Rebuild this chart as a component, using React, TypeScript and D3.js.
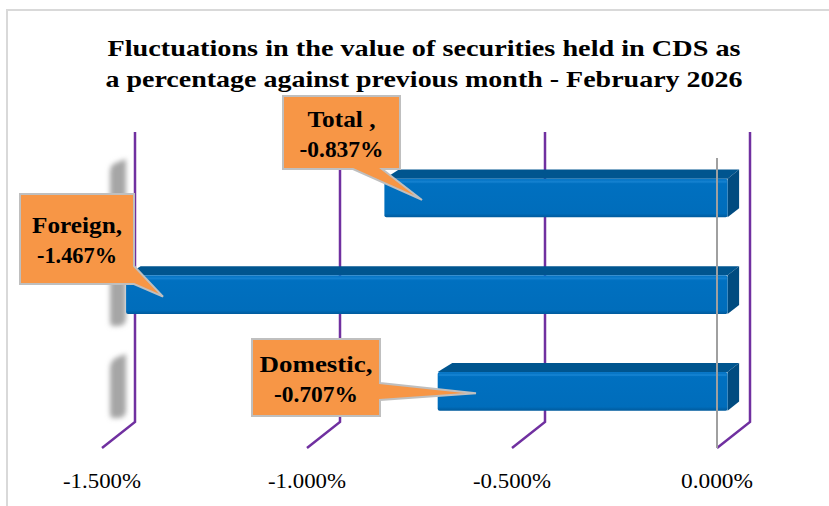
import React from "react";
import * as d3 from "d3";

const categories = ["Total", "Foreign", "Domestic"];
const values = [-0.837, -1.467, -0.707];
const labelNames = ["Total ,", "Foreign,", "Domestic,"];
const ticks = [-1.5, -1.0, -0.5, 0];
const titleLines = [
  "Fluctuations in the value of securities held in CDS as",
  "a percentage against previous month - February 2026",
];

const W = 829;
const H = 506;
const DX = -33; // depth offset (back -> front)
const DY = 26;
const FONT = "'Liberation Serif', 'Times New Roman', serif";

const pct = (v: number) => (v < 0 ? "-" : "") + d3.format(".3f")(Math.abs(v)) + "%";

export default function App() {
  const x = d3.scaleLinear().domain([-1.5, 0]).range([135, 750]);
  const y = d3.scaleBand<string>().domain(categories).range([132, 422]).paddingInner(0.6).paddingOuter(0.3);

  const tf = 0.68; // bar front depth
  const tb = 0.33; // bar back depth

  const boxes = [
    { x: 283, y: 96, w: 117, h: 73, p1: 353, p2: 382, tipX: 422, l1: 68, l2: 84 },
    { x: 20, y: 194, w: 114, h: 90, p1: 266, p2: 284, tipX: 163, l1: 90, l2: 80 },
    { x: 252, y: 339, w: 128, h: 77, p1: 383, p2: 400, tipX: 476, l1: 113, l2: 84 },
  ];
  const titleLens = [633, 637];

  return (
    <svg width={W} height={H} style={{ position: "fixed", left: 0, top: 0, background: "#fff" }}>
      <defs>
        <filter id="blur" x="-80%" y="-30%" width="260%" height="160%">
          <feGaussianBlur stdDeviation="2.8" />
        </filter>
        <linearGradient id="frontGrad" x1="0" y1="0" x2="0" y2="1">
          <stop offset="0" stopColor="#0a78c8" />
          <stop offset="0.15" stopColor="#0070c0" />
          <stop offset="0.9" stopColor="#006dbb" />
          <stop offset="1" stopColor="#005a9c" />
        </linearGradient>
      </defs>
      <rect x={7} y={10} width={W + 10} height={H + 10} fill="#fff" stroke="#d9d9d9" strokeWidth={2} />

      {titleLines.map((t, i) => (
        <text
          key={i}
          x={424}
          y={56 + i * 31}
          textAnchor="middle"
          fontFamily={FONT}
          fontWeight="bold"
          fontSize={24}
          fill="#000"
          textLength={titleLens[i]}
          lengthAdjust="spacingAndGlyphs"
        >
          {t}
        </text>
      ))}

      {/* shadows on left wall */}
      <path d="M110,172 Q110,164 118,162 L126,159 L126,318 Q126,326 118,326 L112,326 Q110,326 110,318 Z" fill="#a6a6a6" filter="url(#blur)" />
      <path d="M110,368 Q110,360 118,357 L126,354 L126,410 Q126,418 118,418 L112,418 Q110,418 110,410 Z" fill="#a6a6a6" filter="url(#blur)" />

      {/* purple gridlines */}
      {ticks.map((t) => (
        <polyline key={t} points={`${x(t)},132 ${x(t)},422 ${x(t) + DX},${422 + DY}`} fill="none" stroke="#7030a0" strokeWidth={2.5} />
      ))}

      {/* bars */}
      {categories.map((c, i) => {
        const v = values[i];
        const yb = y(c) as number;
        const bh = y.bandwidth();
        const fx0 = x(v) + DX * tf;
        const fx1 = x(0) + DX * tf;
        const fy0 = yb + DY * tf;
        const fy1 = fy0 + bh;
        const bx0 = x(v) + DX * tb;
        const bx1 = x(0) + DX * tb;
        const by0 = yb + DY * tb;
        return (
          <g key={c}>
            <path d={`M${fx0},${fy0} L${bx0 + 3},${by0} L${bx1},${by0} L${fx1},${fy0} Z`} fill="#00558f" />
            <path d={`M${fx1},${fy0} L${bx1},${by0} L${bx1},${by0 + bh} L${fx1},${fy1} Z`} fill="#004b80" />
            <rect x={fx0} y={fy0} width={fx1 - fx0} height={bh} rx={2} fill="url(#frontGrad)" />
            <rect x={fx0 + 1} y={fy0 + 2} width={fx1 - fx0 - 2} height={2} fill="#1a86d4" opacity={0.7} />
          </g>
        );
      })}

      {/* front zero axis line */}
      <line x1={x(0) + DX} x2={x(0) + DX} y1={132 + DY} y2={422 + DY} stroke="#a0a0a0" strokeWidth={2} />

      {/* tick labels */}
      {ticks.map((t) => (
        <text
          key={t}
          x={x(t) + DX}
          y={488}
          textAnchor="middle"
          fontFamily={FONT}
          fontSize={21}
          fill="#000"
          textLength={t === 0 ? 72 : 78}
          lengthAdjust="spacingAndGlyphs"
        >
          {pct(t)}
        </text>
      ))}

      {/* callouts */}
      {categories.map((c, i) => {
        const b = boxes[i];
        const v = values[i];
        const yb = y(c) as number;
        const tipX = b.tipX;
        const tipY = yb + DY * tf + y.bandwidth() * 0.55;
        let d = "";
        if (i === 0) {
          d = `M${b.x},${b.y} H${b.x + b.w} V${b.y + b.h} H${b.p2} L${tipX},${tipY} L${b.p1},${b.y + b.h} H${b.x} Z`;
        } else {
          d = `M${b.x},${b.y} H${b.x + b.w} V${b.p1} L${tipX},${tipY} L${b.x + b.w},${b.p2} V${b.y + b.h} H${b.x} Z`;
        }
        const cx = b.x + b.w / 2;
        const cy = b.y + b.h / 2;
        return (
          <g key={c}>
            <path d={d} fill="#f79646" stroke="#bfbfbf" strokeWidth={2} strokeLinejoin="miter" />
            <text x={cx} y={cy - 6} textAnchor="middle" fontFamily={FONT} fontWeight="bold" fontSize={23} fill="#000" textLength={b.l1} lengthAdjust="spacingAndGlyphs">
              {labelNames[i]}
            </text>
            <text x={cx} y={cy + 24} textAnchor="middle" fontFamily={FONT} fontWeight="bold" fontSize={23} fill="#000" textLength={b.l2} lengthAdjust="spacingAndGlyphs">
              {pct(v)}
            </text>
          </g>
        );
      })}
    </svg>
  );
}
